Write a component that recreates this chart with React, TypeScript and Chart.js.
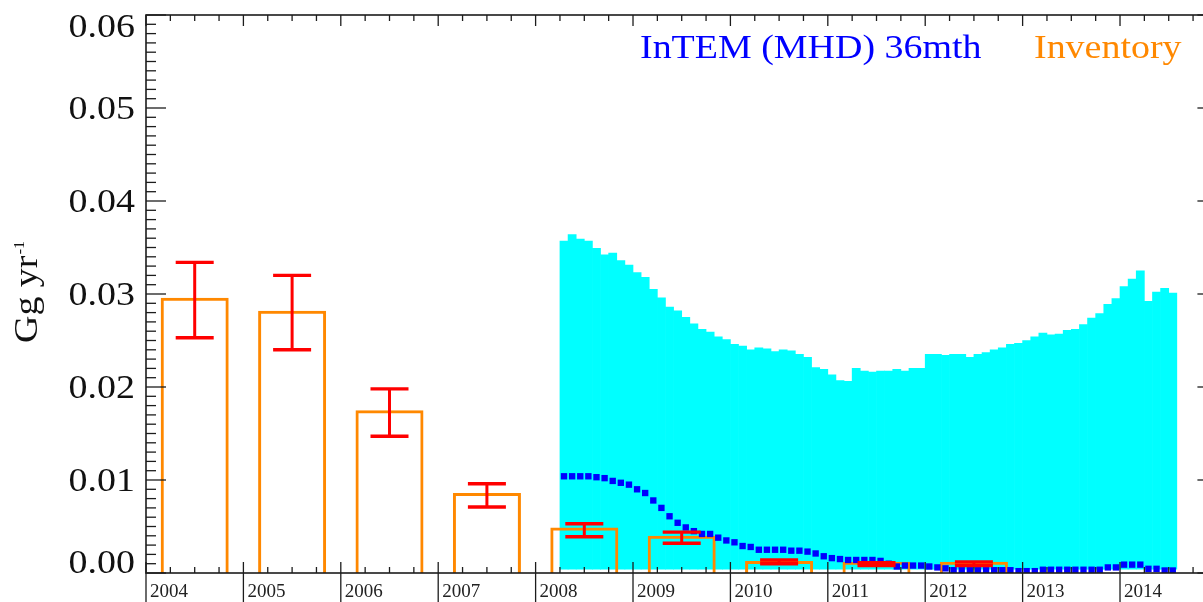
import { useEffect, useRef } from 'react';
import { Chart, registerables } from 'chart.js';

Chart.register(...registerables);

// ---------- data ----------
const INVENTORY_YEARS = [2004, 2005, 2006, 2007, 2008, 2009, 2010, 2011, 2012];
const INVENTORY = [0.0296, 0.0282, 0.0175, 0.0086, 0.0049, 0.004, 0.0013, 0.0012, 0.0012];
const ERR_HIGH = [0.0334, 0.032, 0.0198, 0.0096, 0.0053, 0.0044, 0.0014, 0.0011, 0.0012];
const ERR_LOW = [0.0253, 0.024, 0.0147, 0.0071, 0.0039, 0.0032, 0.001, 0.0008, 0.0008];

// monthly InTEM estimates, April 2008 .. July 2014
const FIRST_MONTH_YEAR = 2008;
const FIRST_MONTH_INDEX = 3; // April (0-based)
const INTEM_UPPER = [
  0.0357, 0.0364, 0.0359, 0.0357, 0.0349, 0.0342, 0.0344, 0.0336, 0.0331, 0.0323,
  0.0318, 0.0305, 0.0296, 0.0286, 0.0282, 0.0275, 0.0268, 0.0262, 0.0259, 0.0254,
  0.0251, 0.0246, 0.0244, 0.024, 0.0242, 0.0241, 0.0238, 0.024, 0.0239, 0.0235,
  0.0232, 0.0221, 0.0219, 0.0213, 0.0207, 0.0206, 0.022, 0.0217, 0.0216, 0.0217,
  0.0217, 0.0219, 0.0217, 0.022, 0.022, 0.0235, 0.0235, 0.0234, 0.0235, 0.0235,
  0.0232, 0.0235, 0.0237, 0.024, 0.0242, 0.0246, 0.0247, 0.025, 0.0254, 0.0258,
  0.0256, 0.0257, 0.0261, 0.0262, 0.0267, 0.0274, 0.0279, 0.0289, 0.0295, 0.0308,
  0.0316, 0.0325, 0.0292, 0.0302, 0.0306, 0.0301,
];
const INTEM_LOWER_VISIBLE = 0.0004;
const INTEM_MEAN = [
  0.0104, 0.0104, 0.0104, 0.0104, 0.0103, 0.0102, 0.0099, 0.0097, 0.0095, 0.009,
  0.0086, 0.0078, 0.007, 0.0061, 0.0054, 0.0049, 0.0045, 0.0042, 0.0042, 0.0038,
  0.0035, 0.0033, 0.0029, 0.0028, 0.0025, 0.0025, 0.0025, 0.0025, 0.0024, 0.0024,
  0.0023, 0.0021, 0.0018, 0.0016, 0.0015, 0.0014, 0.0014, 0.0014, 0.0014, 0.0013,
  0.001, 0.0007, 0.0008, 0.0008, 0.0008, 0.0007, 0.0006, 0.0005, 0.0003, 0.0003,
  0.0003, 0.0003, 0.0003, 0.0003, 0.0003, 0.0003, 0.0002, 0.0002, 0.0002, 0.00035,
  0.00035, 0.00035, 0.00035, 0.00035, 0.00035, 0.00035, 0.00035, 0.0006, 0.0006, 0.0009,
  0.0009, 0.0009, 0.00045, 0.00045, 0.00027, 0.00027,
];

const X_TICK_LABELS = ['2004', '2005', '2006', '2007', '2008', '2009', '2010', '2011', '2012', '2013', '2014'];
const Y_TICK_LABELS = ['0.00', '0.01', '0.02', '0.03', '0.04', '0.05', '0.06'];
const LEGEND_LABELS = ['InTEM (MHD) 36mth', 'Inventory'];
const Y_TITLE = 'Gg yr';
const Y_TITLE_SUP = '-1';

// axis extents (the frame's right edge, 2015, lies just outside the picture)
const X_MIN = 2004;
const X_VISIBLE_MAX = 2014.852;
const X_FRAME_MAX = 2015;

// ---------- style ----------
const ORANGE = 'rgb(255,136,0)';
const RED = '#ff0000';
const BLUE = '#0000ff';
const CYAN = '#00ffff';
const AXIS = '#1c1c1c';
const SERIF = '"Liberation Serif", "Times New Roman", serif';
const STRETCH = 1.15;

const monthX = INTEM_UPPER.map((_, i) => FIRST_MONTH_YEAR + (FIRST_MONTH_INDEX + i + 0.5) / 12);

function stretchedText(ctx: CanvasRenderingContext2D, text: string, x: number, y: number, align: CanvasTextAlign) {
  ctx.save();
  ctx.translate(x, y);
  ctx.scale(STRETCH, 1);
  ctx.textAlign = align;
  ctx.fillText(text, 0, 0);
  ctx.restore();
}

const zeroPadding = (s: any) => {
  s.paddingLeft = 0;
  s.paddingRight = 0;
  s.paddingTop = 0;
  s.paddingBottom = 0;
};

const framePlugin = {
  id: 'frame',
  afterDraw(chart: any) {
    const { ctx, chartArea: a, scales } = chart;
    const x = scales.x;
    const y = scales.y;
    const H = chart.height;
    const right = x.getPixelForValue(X_FRAME_MAX);
    ctx.save();
    ctx.strokeStyle = AXIS;
    ctx.fillStyle = AXIS;
    const seg = (x1: number, y1: number, x2: number, y2: number) => {
      ctx.beginPath();
      ctx.moveTo(x1, y1);
      ctx.lineTo(x2, y2);
      ctx.stroke();
    };
    // box
    ctx.lineWidth = 1.6;
    ctx.strokeRect(a.left, a.top, right - a.left, a.bottom - a.top);

    ctx.lineWidth = 1.3;
    // y ticks
    for (let k = 0; k <= 60; k++) {
      const py = y.getPixelForValue(k / 1000);
      const len = k % 10 === 0 ? 20 : 10;
      seg(a.left, py, a.left + len, py);
      seg(right, py, right - len, py);
    }
    // x ticks (quarters)
    for (let q = 0; X_MIN + q / 4 <= X_FRAME_MAX + 1e-9; q++) {
      const px = x.getPixelForValue(X_MIN + q / 4);
      const major = q % 4 === 0;
      seg(px, a.top, px, a.top + (major ? 11 : 6));
      if (major) seg(px, a.bottom - 11, px, H);
      else seg(px, a.bottom, px, a.bottom - 6);
    }

    // x labels
    ctx.font = `19px ${SERIF}`;
    ctx.textBaseline = 'alphabetic';
    ctx.fillStyle = '#222';
    X_TICK_LABELS.forEach((lab) => {
      const px = x.getPixelForValue(parseFloat(lab));
      ctx.textAlign = 'left';
      ctx.fillText(lab, px + 4, 597);
    });

    // y labels
    ctx.font = `33px ${SERIF}`;
    ctx.fillStyle = '#111';
    Y_TICK_LABELS.forEach((lab) => {
      const py = y.getPixelForValue(parseFloat(lab));
      const base = Math.min(a.bottom, Math.max(a.top + 22, py + 11));
      stretchedText(ctx, lab, 135, base, 'right');
    });

    // y title
    ctx.save();
    ctx.translate(37, 343);
    ctx.rotate(-Math.PI / 2);
    ctx.scale(STRETCH, 1);
    ctx.font = `33px ${SERIF}`;
    ctx.textAlign = 'left';
    ctx.fillText(Y_TITLE, 0, 0);
    const w = ctx.measureText(Y_TITLE).width;
    ctx.font = `14px ${SERIF}`;
    ctx.fillText(Y_TITLE_SUP, w + 1, -13);
    ctx.restore();

    // legend texts
    ctx.font = `33px ${SERIF}`;
    ctx.fillStyle = BLUE;
    stretchedText(ctx, LEGEND_LABELS[0], 640, 58, 'left');
    ctx.fillStyle = ORANGE;
    stretchedText(ctx, LEGEND_LABELS[1], 1034, 58, 'left');
    ctx.restore();
  },
};

export default function App() {
  const ref = useRef<HTMLCanvasElement | null>(null);

  useEffect(() => {
    if (!ref.current) return;
    const caps: { x: number; y: number }[] = [];
    INVENTORY_YEARS.forEach((yr, i) => {
      caps.push({ x: yr + 0.5, y: ERR_HIGH[i] });
      caps.push({ x: yr + 0.5, y: ERR_LOW[i] });
    });

    const chart = new Chart(ref.current, {
      type: 'bar',
      data: {
        datasets: [
          {
            type: 'scatter',
            label: 'error caps',
            data: caps,
            pointStyle: 'line',
            pointRadius: 19,
            pointBorderWidth: 3.4,
            pointBorderColor: RED,
            pointBackgroundColor: RED,
            order: 0,
          } as any,
          {
            type: 'bar',
            label: 'error range',
            data: INVENTORY_YEARS.map((yr, i) => ({ x: yr + 0.5, y: [ERR_LOW[i], ERR_HIGH[i]] })),
            backgroundColor: RED,
            borderWidth: 0,
            barThickness: 3,
            inflateAmount: 0,
            stack: 'g',
            order: 1,
          } as any,
          {
            type: 'scatter',
            label: LEGEND_LABELS[0],
            data: INTEM_MEAN.map((v, i) => ({ x: monthX[i], y: v })),
            pointStyle: 'rect',
            pointRadius: 4.5,
            pointBorderWidth: 0,
            pointBackgroundColor: BLUE,
            order: 2,
          } as any,
          {
            type: 'bar',
            label: LEGEND_LABELS[1],
            data: INVENTORY_YEARS.map((yr, i) => ({ x: yr + 0.5, y: INVENTORY[i] })),
            backgroundColor: 'rgba(0,0,0,0)',
            borderColor: ORANGE,
            borderWidth: 3,
            borderSkipped: 'start',
            barThickness: 68,
            inflateAmount: 0,
            stack: 'g',
            order: 3,
          } as any,
          {
            type: 'bar',
            label: 'InTEM uncertainty',
            data: INTEM_UPPER.map((v, i) => ({ x: monthX[i], y: v })),
            backgroundColor: CYAN,
            borderWidth: 0,
            base: INTEM_LOWER_VISIBLE,
            barThickness: 8.12,
            stack: 'g',
            order: 4,
          } as any,
        ],
      },
      options: {
        responsive: true,
        maintainAspectRatio: false,
        animation: false,
        events: [],
        layout: { autoPadding: false, padding: { left: 146, right: 0, top: 15, bottom: 29 } },
        plugins: { legend: { display: false }, tooltip: { enabled: false } },
        scales: {
          x: {
            type: 'linear',
            min: X_MIN,
            max: X_VISIBLE_MAX,
            display: false,
            offset: false,
            ticks: { display: false },
            afterFit: zeroPadding,
          },
          y: {
            type: 'linear',
            min: 0,
            max: 0.06,
            display: false,
            stacked: false,
            ticks: { display: false },
            afterFit: zeroPadding,
          },
        },
      } as any,
      plugins: [framePlugin],
    });
    return () => chart.destroy();
  }, []);

  return (
    <div
      style={{
        position: 'fixed',
        left: 0,
        top: 0,
        width: 1203,
        height: 602,
        overflow: 'hidden',
        background: '#fff',
      }}
    >
      <canvas ref={ref} />
    </div>
  );
}
